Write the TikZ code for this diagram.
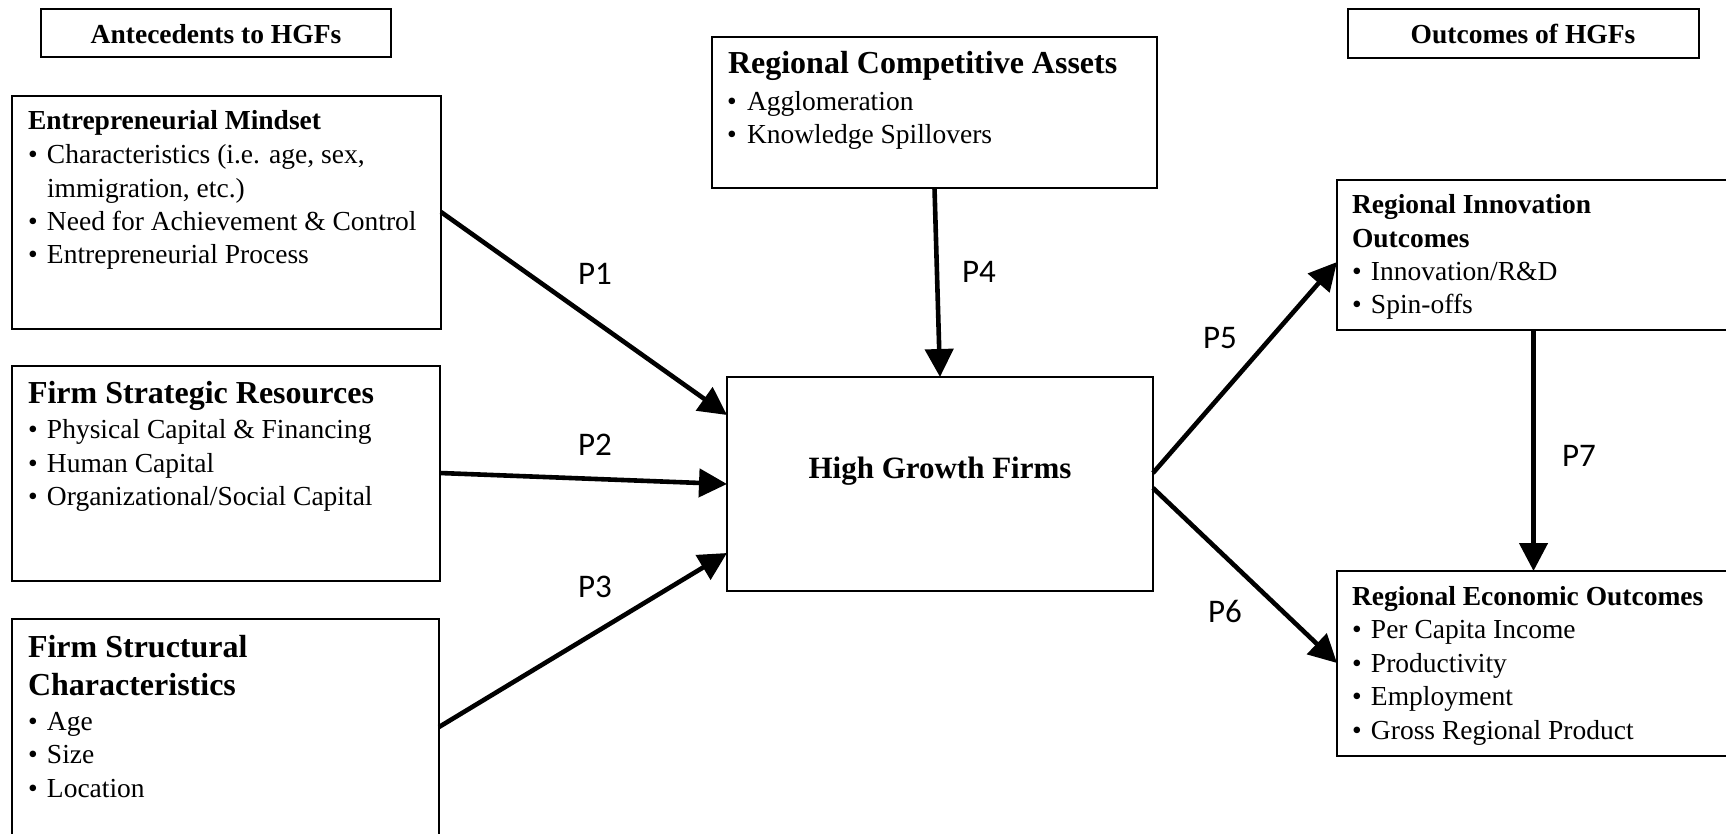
\documentclass[tikz,border=0pt]{standalone}
\usepackage{fontspec}
\setmainfont{Liberation Serif}
\newfontfamily\lblfont{Carlito}
\usetikzlibrary{arrows.meta}
\newcommand\mybul{\makebox[19pt][l]{•}}
\tikzset{
  box/.style={draw, line width=1.6pt, rectangle, inner sep=0pt, outer sep=0pt, anchor=north west},
  txt/.style={anchor=base west, inner sep=0pt, outer sep=0pt, font=\fontsize{27.5}{33}\selectfont},
  head/.style={anchor=base west, inner sep=0pt, outer sep=0pt, font=\fontsize{27.5}{33}\selectfont\bfseries},
  bighead/.style={anchor=base west, inner sep=0pt, outer sep=0pt, font=\fontsize{32}{38}\selectfont\bfseries},
  title/.style={anchor=base, inner sep=0pt, outer sep=0pt, font=\fontsize{27.5}{33}\selectfont\bfseries},
  arr/.style={line width=4.6pt, -{Triangle[length=28pt,width=28pt]}},
  plabel/.style={inner sep=0pt, font={\lblfont\fontsize{33}{40}\selectfont}}
}
\begin{document}
\begin{tikzpicture}[x=1pt,y=-1pt]
\useasboundingbox (0,0) rectangle (1726,833);
\clip (0,0) rectangle (1726,833);
\fill[white] (0,0) rectangle (1726,833);

% header boxes
\node[box, minimum width=350pt, minimum height=48pt] (ante) at (41,9) {};
\node[title] (antet) at (216,43) {Antecedents to HGFs};
\node[box, minimum width=351pt, minimum height=49pt] (outc) at (1348,9) {};
\node[title] (outct) at (1523,43) {Outcomes of HGFs};

% Entrepreneurial Mindset
\node[box, minimum width=429pt, minimum height=233pt] (em) at (12,96) {};
\node[head] (em-h) at (28,129) {Entrepreneurial Mindset};
\node[txt] (em-1) at (28,163) {\mybul Characteristics (i.e. age, sex,};
\node[txt] (em-2) at (47,197) {immigration, etc.)};
\node[txt] (em-3) at (28,230) {\mybul Need for Achievement \& Control};
\node[txt] (em-4) at (28,263) {\mybul Entrepreneurial Process};

% Firm Strategic Resources
\node[box, minimum width=428pt, minimum height=215pt] (fsr) at (12,366) {};
\node[bighead] (fsr-h) at (28,403) {Firm Strategic Resources};
\node[txt] (fsr-1) at (28,438) {\mybul Physical Capital \& Financing};
\node[txt] (fsr-2) at (28,472) {\mybul Human Capital};
\node[txt] (fsr-3) at (28,505) {\mybul Organizational/Social Capital};

% Firm Structural Characteristics
\node[box, minimum width=427pt, minimum height=240pt] (fsc) at (12,619) {};
\node[bighead] (fsc-h1) at (28,657) {Firm Structural};
\node[bighead] (fsc-h2) at (28,695) {Characteristics};
\node[txt] (fsc-1) at (28,730) {\mybul Age};
\node[txt] (fsc-2) at (28,763) {\mybul Size};
\node[txt] (fsc-3) at (28,797) {\mybul Location};

% Regional Competitive Assets
\node[box, minimum width=445pt, minimum height=151pt] (rca) at (712,37) {};
\node[bighead] (rca-h) at (728,73) {Regional Competitive Assets};
\node[txt] (rca-1) at (727,110) {\makebox[20pt][l]{•}Agglomeration};
\node[txt] (rca-2) at (727,143) {\makebox[20pt][l]{•}Knowledge Spillovers};

% High Growth Firms
\node[box, minimum width=426pt, minimum height=214pt] (hgf) at (727,377) {};
\node[anchor=base, inner sep=0pt, font=\fontsize{31}{37}\selectfont\bfseries] (hgf-t) at (940,478) {High Growth Firms};

% Regional Innovation Outcomes
\node[box, minimum width=393pt, minimum height=150pt] (rio) at (1337,180) {};
\node[head] (rio-h1) at (1352,213) {Regional Innovation};
\node[head] (rio-h2) at (1352,247) {Outcomes};
\node[txt] (rio-1) at (1352,280) {\mybul Innovation/R\&D};
\node[txt] (rio-2) at (1352,313) {\mybul Spin-offs};

% Regional Economic Outcomes
\node[box, minimum width=393pt, minimum height=185pt] (reo) at (1337,571) {};
\node[head] (reo-h) at (1352,605) {Regional Economic Outcomes};
\node[txt] (reo-1) at (1352,638) {\mybul Per Capita Income};
\node[txt] (reo-2) at (1352,672) {\mybul Productivity};
\node[txt] (reo-3) at (1352,705) {\mybul Employment};
\node[txt] (reo-4) at (1352,739) {\mybul Gross Regional Product};

% connectors
\draw[arr] ([yshift=-116pt]em.north east) -- ([yshift=-38pt]hgf.north west);
\draw[arr] ([yshift=-107pt]fsr.north east) -- ([yshift=-107pt]hgf.north west);
\draw[arr] ([yshift=-108pt]fsc.north east) -- ([yshift=-176pt]hgf.north west);
\draw[arr] (rca.south) -- (hgf.north);
\draw[arr] ([yshift=-96pt]hgf.north east) -- ([yshift=-82pt]rio.north west);
\draw[arr] ([yshift=-111pt]hgf.north east) -- ([yshift=-92pt]reo.north west);
\draw[arr] (rio.south) -- (reo.north);

% labels
\node[plabel] (p1) at (595,274) {P1};
\node[plabel] (p2) at (595,445) {P2};
\node[plabel] (p3) at (595,587) {P3};
\node[plabel] (p4) at (979,272) {P4};
\node[plabel] (p5) at (1220,338) {P5};
\node[plabel] (p6) at (1225,611) {P6};
\node[plabel] (p7) at (1579,456) {P7};
\end{tikzpicture}
\end{document}
